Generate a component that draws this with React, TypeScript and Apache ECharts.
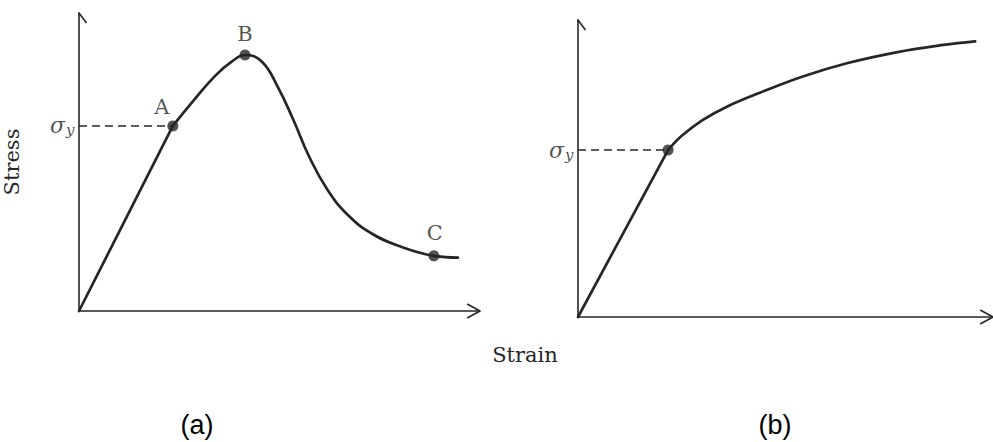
import React, { useEffect, useRef } from "react";
import * as echarts from "echarts";

// ---- data (arbitrary stress / strain units, 0..100) ----
const elasticStrainA = [0, 23.4];
const elasticStressA = [0, 62.1];
const plasticStrainA = [23.4, 28.5, 34.0, 38.0, 41.4, 45.5, 49.5, 53.5, 57.5, 62.0, 67.0, 73.0, 80.0, 88.5, 94.5];
const plasticStressA = [62.1, 70.5, 79.0, 83.6, 85.9, 83.8, 75.4, 64.0, 51.5, 40.6, 32.3, 26.0, 21.7, 18.5, 17.9];
const pointNamesA = ["A", "B", "C"];
const pointStrainA = [23.4, 41.4, 88.5];
const pointStressA = [62.1, 85.9, 18.5];
const yieldStrainA = 23.4;
const yieldStressA = 62.1;

const elasticStrainB = [0, 21.7];
const elasticStressB = [0, 56.2];
const plasticStrainB = [21.7, 25.0, 30.0, 36.0, 44.0, 54.0, 65.0, 77.0, 88.0, 95.7];
const plasticStressB = [56.2, 61.0, 66.3, 70.9, 75.6, 80.9, 85.5, 89.2, 91.6, 92.8];
const yieldStrainB = 21.7;
const yieldStressB = 56.2;

const axisLabelY = "Stress";
const axisLabelX = "Strain";
const panelLabels = ["(a)", "(b)"];

const INK = "#262626";
const SERIF = "'DejaVu Serif', serif";
const SANS = "'Liberation Sans', Arial, sans-serif";

const zip = (xs: number[], ys: number[]) => xs.map((x, i) => [x, ys[i]]);

export default function App() {
  const ref = useRef<HTMLDivElement>(null);
  useEffect(() => {
    if (!ref.current) return;
    const chart = echarts.init(ref.current, null, { renderer: "svg" });

    const axisBase = {
      type: "value",
      min: 0,
      max: 100,
      axisLine: { show: true, onZero: false, lineStyle: { color: INK, width: 1.6 } },
      axisTick: { show: false },
      axisLabel: { show: false },
      splitLine: { show: false },
    };

    const curve = (xs: number[], ys: number[], gi: number, smooth: number | boolean) => ({
      type: "line",
      xAxisIndex: gi,
      yAxisIndex: gi,
      data: zip(xs, ys),
      smooth,
      showSymbol: false,
      symbol: "none",
      clip: false,
      lineStyle: { color: INK, width: 2.7, cap: "round", join: "round" },
    });

    const arrows = (gi: number, bx: number, by: number, sx: number, sy: number) => [
      {
        type: "line", xAxisIndex: gi, yAxisIndex: gi, symbol: "none", clip: false,
        data: [[100 - bx, by], [100, 0], [100 - bx, -by]],
        lineStyle: { color: INK, width: 1.6 },
      },
      {
        type: "line", xAxisIndex: gi, yAxisIndex: gi, symbol: "none", clip: false,
        data: [[-sx, 100 - sy], [0, 100], [sx, 100 - sy]],
        lineStyle: { color: INK, width: 1.6 },
      },
    ];

    const dashed = (gi: number, xs: number, ys: number) => ({
      type: "line", xAxisIndex: gi, yAxisIndex: gi, symbol: "none", clip: false,
      data: [[0, ys], [xs, ys]],
      lineStyle: { color: INK, width: 1.5, type: [8, 5] },
    });

    const sigmaLabel = (gi: number, ys: number) => ({
      type: "scatter", xAxisIndex: gi, yAxisIndex: gi, symbolSize: 1,
      itemStyle: { color: "rgba(0,0,0,0)" },
      data: [[0, ys]],
      label: {
        show: true,
        position: "left",
        distance: 4,
        formatter: "{s|σ}{y|y}",
        rich: {
          s: { fontFamily: SERIF, fontStyle: "italic", fontSize: 22, color: INK, lineHeight: 24 },
          y: { fontFamily: SERIF, fontStyle: "italic", fontSize: 15, color: INK, verticalAlign: "bottom", lineHeight: 15, padding: [0, 0, 0, 1] },
        },
      },
    });

    const labelOffsets: Record<string, number[]> = { A: [-11, -19], B: [0, -21], C: [1, -23] };

    const option = {
      animation: false,
      backgroundColor: "#ffffff",
      grid: [
        { left: 79, top: 13, width: 401, height: 298 },
        { left: 578, top: 20, width: 415, height: 297 },
      ],
      xAxis: [
        { ...axisBase, gridIndex: 0 },
        { ...axisBase, gridIndex: 1 },
      ],
      yAxis: [
        {
          ...axisBase,
          gridIndex: 0,
          name: axisLabelY,
          nameLocation: "middle",
          nameGap: 57,
          nameRotate: 90,
          nameTextStyle: { fontFamily: SERIF, fontSize: 21, color: INK },
        },
        { ...axisBase, gridIndex: 1 },
      ],
      graphic: [
        {
          type: "text", x: 525, y: 355,
          style: { text: axisLabelX, font: `21px ${SERIF}`, fill: INK, align: "center", verticalAlign: "middle" },
        },
        {
          type: "text", x: 197, y: 425,
          style: { text: panelLabels[0], font: `27px ${SANS}`, fill: "#000", align: "center", verticalAlign: "middle" },
        },
        {
          type: "text", x: 775, y: 425,
          style: { text: panelLabels[1], font: `27px ${SANS}`, fill: "#000", align: "center", verticalAlign: "middle" },
        },
      ],
      series: [
        ...arrows(0, 3.2, 2.35, 1.87, 3.36),
        ...arrows(1, 3.1, 2.35, 1.8, 3.4),
        dashed(0, yieldStrainA, yieldStressA),
        dashed(1, yieldStrainB, yieldStressB),
        curve(elasticStrainA, elasticStressA, 0, false),
        curve(plasticStrainA, plasticStressA, 0, 0.45),
        curve(elasticStrainB, elasticStressB, 1, false),
        curve(plasticStrainB, plasticStressB, 1, 0.4),
        sigmaLabel(0, yieldStressA),
        sigmaLabel(1, yieldStressB),
        {
          type: "scatter", xAxisIndex: 0, yAxisIndex: 0, symbolSize: 11,
          itemStyle: { color: INK },
          data: pointNamesA.map((n, i) => ({
            name: n,
            value: [pointStrainA[i], pointStressA[i]],
            label: {
              show: true, position: "inside", offset: labelOffsets[n], formatter: n,
              fontFamily: SERIF, fontSize: 21, color: INK,
            },
          })),
        },
        {
          type: "scatter", xAxisIndex: 1, yAxisIndex: 1, symbolSize: 11,
          itemStyle: { color: INK },
          data: [[yieldStrainB, yieldStressB]],
        },
      ],
    };

    chart.setOption(option as any);
    return () => chart.dispose();
  }, []);

  return (
    <div
      ref={ref}
      style={{ position: "fixed", left: 0, top: 0, width: 993, height: 442, background: "#fff" }}
    />
  );
}
